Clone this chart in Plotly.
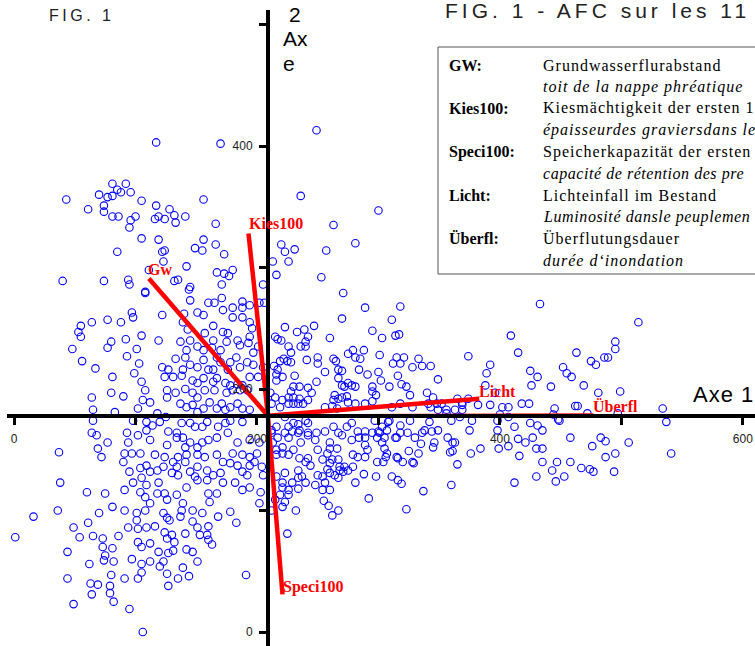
import plotly.graph_objects as go

# ---------------- data: relevés (scores on Axe 1 / Axe 2) ----------------
releves_haut = [
    (117,403),(170,402),(249,413),(43,356),(61,348),(70,360),(74,351),(74,346),(77,358),(81,359),
    (81,369),(85,364),(88,362),(92,369),(96,362),(81,342),(86,342),(95,333),(96,339),(100,342),
    (105,355),(117,351),(116,340),(119,342),(124,340),(128,348),(132,343),(133,337),(141,342),(156,356),
    (236,359),(166,336),(105,324),(119,323),(85,313),(122,313),(124,314),(123,305),(149,316),(155,314),
    (156,323),(166,319),(173,311),(142,301),(167,296),(173,295),(177,293),(180,298),(40,289),(74,289),
    (94,290),(95,286),(132,289),(135,290),(145,284),(171,286),(205,286),(300,347),
    (263,335),(220,319),(223,313),(231,315),(226,305),(213,305),(257,314),(281,320),(108,280),(111,298),
    (144,282),(145,273),(216,294),(206,271),(253,292),(271,279),
]

releves_centre_est = [
    (289,267),(318,268),(270,258),(311,257),(223,251),(233,247),(239,249),(247,252),(242,243),(215,243),
    (217,241),(220,240),(260,242),(295,248),(303,242),(314,244),(317,245),(226,235),(236,235),(240,239),
    (240,235),(228,230),(225,223),(228,222),(222,225),(241,224),(250,226),(250,221),(263,225),(265,223),
    (275,229),(279,232),(281,226),(285,225),(288,232),(301,228),(315,226),(321,226),(333,225),(312,221),
    (318,221),(328,218),(336,219),(343,219),(256,214),(267,216),(270,215),(284,216),(291,212),(300,214),
    (316,211),(219,223),(214,219),(217,216),(216,212),(221,210),(231,211),(216,207),(249,206),(267,209),
    (270,203),(272,202),(275,205),(278,203),(281,202),(302,207),(309,202),(319,204),(323,202),(349,208),
    (230,202),(235,202),(242,201),(245,197),(228,198),(226,193),(230,193),(235,192),(295,202),(295,198),
    (298,195),(326,195),(340,197),(365,192),(264,195),(270,193),(274,194),(263,191),(267,192),(275,189),
    (281,188),(289,188),(295,190),(211,197),(215,193),(212,188),(221,191),(219,185),(226,188),(230,188),
    (234,188),(238,188),(242,191),(311,185),(318,188),(328,185),(341,188),(343,185),(349,183),(356,183),
    (363,183),(369,183),(256,185),(262,186),(266,184),
    (223,177),(226,169),(230,172),(234,171),(240,174),(242,172),(235,166),(242,164),(249,164),(256,165),
    (263,169),(267,164),(274,169),(278,172),(283,165),(289,165),(300,165),(303,169),(308,173),(318,170),
    (324,164),(336,164),(349,166),(357,160),(297,174),(216,169),(212,166),
]

releves_sud = [
    (212,164),(217,160),(223,164),(226,160),(229,165),(213,156),(216,150),(216,146),(221,152),(221,147),
    (226,146),(230,150),(234,164),(242,162),(236,156),(248,158),(250,150),(270,162),(260,156),(266,151),
    (260,151),(258,147),(254,142),(262,142),(267,142),(260,139),(235,143),(240,140),(242,143),(244,137),
    (268,136),(272,136),(275,133),(279,136),(271,132),(278,158),(284,160),(289,160),(295,164),(289,154),
    (291,150),(279,146),(283,144),(289,144),(299,160),(301,164),(305,160),(303,156),(305,151),(299,140),
    (304,140),(306,144),(315,160),(318,164),(330,160),(344,165),(335,155),(346,156),(325,149),(333,147),
    (329,139),(315,144),(320,140),(361,156),(361,149),(365,138),(360,121),(337,116),(311,128),(316,125),
    (319,122),(288,130),(298,128),(281,123),(292,110),(323,101),(223,131),(216,128),(221,123),(229,123),
    (234,127),(234,133),(237,128),(240,123),(248,121),(254,128),(256,123),(250,129),(258,134),(260,131),
    (264,129),(267,127),(268,133),(221,119),(226,117),(226,113),(219,113),(234,118),(223,107),(221,103),
    (254,117),(260,117),(255,108),(259,104),(267,100),(262,96),(232,100),(225,81),(215,109),(212,100),
]

releves_est = [
    (369,187),(382,187),(392,187),(402,185),(407,185),(418,188),(424,188),(445,184),(462,186),(464,186),
    (472,180),(534,184),(497,180),(377,174),(398,174),(407,177),(425,172),(431,170),(435,166),(444,179),
    (448,175),(537,173),(375,166),(398,166),(412,169),(415,159),(421,156),(427,160),(430,151),(435,151),
    (458,160),(483,160),(487,157),(476,153),(506,156),(541,147),(384,151),(399,151),(407,153),(376,147),
    (416,145),(435,140),(447,140),(458,140),(443,133),(453,128),(446,124),(467,135),(474,134),(477,132),
    (487,144),(495,147),(494,132),(430,128),(412,123),(363,156),
    (433,270),(514,255),(409,244),(415,230),(374,227),(392,220),(389,213),(425,215),(431,210),(452,218),
    (455,213),(459,210),(463,230),(475,223),(479,220),(486,226),(489,226),(495,233),(495,239),(469,203),
    (481,197),(499,198),(442,202),(426,203),(345,193),(348,188),(352,188),(369,189),(374,192),(388,203),
    (396,197),(400,179),(449,174),
    (309,174),(307,166),(314,160),(307,147),(316,143),(328,140),(345,152),(359,148),(338,166),(326,174),
    (342,173),(360,174),(356,180),(367,177),
]

releves_ouest = [
    (108,279),(160,271),(165,271),(171,275),(180,267),(188,272),(188,267),(194,269),(202,271),(97,263),
    (98,259),(122,261),(140,262),(151,263),(156,261),(172,265),(180,259),(188,259),(64,255),(77,257),
    (88,255),(55,252),(53,247),(55,243),(139,255),(143,249),(164,252),(172,247),(194,255),(196,250),
    (105,244),(119,240),(137,239),(145,240),(142,232),(151,235),(156,232),(157,246),(164,240),(176,246),
    (175,239),(184,240),(186,236),(193,238),(194,243),(163,234),(170,232),(80,239),(77,234),(92,241),
    (48,233),(101,233),(201,235),(197,230),(56,223),(67,217),(93,227),(103,221),(81,210),(99,213),
    (122,218),(127,216),(133,225),(141,226),(139,216),(145,220),(151,218),(156,224),(160,216),(167,226),
    (170,222),(164,216),(178,222),(183,226),(186,218),(192,222),(197,220),(205,218),(176,216),(105,206),
    (108,199),(80,197),(90,194),(64,193),(124,210),(131,210),(138,211),(147,207),(151,205),(156,209),
    (164,206),(167,209),(174,205),(178,203),(184,204),(188,203),(194,210),(201,210),(126,199),(133,197),
    (141,200),(147,197),(151,193),(157,199),(165,199),(175,197),(180,199),(186,199),(192,199),(65,183),
    (106,191),(112,189),(102,184),(118,180),(126,193),(137,188),(142,185),(147,187),(151,181),(156,184),
    (161,189),(167,184),(171,188),(174,183),(178,185),(184,188),(188,184),(194,183),(83,181),
    (65,174),(64,164),(68,162),(77,156),(69,151),(93,164),(94,156),(97,147),(102,162),(98,174),
    (109,173),(114,170),(120,173),(125,177),(109,166),(112,158),(127,165),(134,164),(138,172),(145,172),
    (149,169),(155,169),(159,173),(168,169),(174,172),(178,174),(188,173),(126,154),(134,160),(139,160),
    (141,152),(145,156),(151,152),(155,156),(160,158),(167,160),(176,164),(184,156),(194,158),(202,156),
    (37,148),(72,144),(91,147),(104,147),(116,146),(124,144),(135,144),(142,146),(151,146),(157,144),
    (167,146),(180,147),(188,146),(194,144),(200,147),
]

releves_sud_ouest = [
    (90,140),(95,132),(104,135),(109,137),(112,132),(118,133),(123,136),(131,140),(134,136),(130,131),
    (135,129),(141,140),(145,132),(149,128),(151,136),(159,133),(164,129),(170,131),(172,140),(178,139),
    (184,137),(188,132),(194,137),(198,140),(204,136),(205,129),(38,123),(60,115),(75,114),(91,117),
    (98,123),(105,127),(104,115),(108,111),(109,121),(119,123),(118,114),(124,114),(126,109),(134,113),
    (139,106),(142,119),(151,125),(159,125),(160,114),(161,107),(167,114),(172,123),(182,123),(188,117),
    (194,119),(203,115),(192,129),(202,106),(36,100),(70,98),(81,103),(91,100),(101,98),(108,100),
    (112,106),(123,98),(126,94),(128,92),(138,100),(147,100),(155,98),(168,95),(178,99),(183,90),
    (137,95),(147,91),(61,90),(49,86),(54,78),(65,79),(73,77),(86,79),(94,86),(101,92),
    (102,85),(109,86),(116,87),(124,82),(126,77),(102,74),(105,70),(112,73),(130,80),(132,74),
    (141,81),(142,68),(147,66),(151,86),(153,80),(159,80),(160,76),(163,72),(151,58),(160,87),
    (44,66),(73,70),(75,63),(81,69),(74,59),(82,58),(62,56),(97,60),(105,56),(112,58),
    (119,66),(127,65),(131,67),(123,58),(120,54),(126,48),(139,53),(144,46),(135,44),(44,44),
    (63,40),(69,39),(64,31),(80,47),(79,38),(79,32),(91,44),(102,44),(105,49),(127,38),
    (49,23),(82,25),(95,19),(106,0),(191,47),(1,78),(16,95),
]

releves = releves_haut + releves_centre_est + releves_sud + releves_est + releves_ouest + releves_sud_ouest
axe1 = [p[0] for p in releves]
axe2 = [p[1] for p in releves]

# variables (vectors drawn from the centre of gravity)
origine_axe1, origine_axe2 = 209, 178
var_noms = ["Gw", "Kies100", "Speci100", "Licht", "Überfl"]
var_axe1 = [111, 193, 221, 383, 477]
var_axe2 = [291, 328, 31, 192, 178.8]
lab_axe1 = [120, 216, 246, 398, 495]
lab_axe2 = [298, 336, 37, 198, 186]

# legend box texts (as visible in the figure)
cles = ["GW:", "Kies100:", "Speci100:", "Licht:", "Überfl:"]
textes_de = ["Grundwasserflurabstand", "Kiesmächtigkeit der ersten 1",
             "Speicherkapazität der ersten", "Lichteinfall im Bestand", "Überflutungsdauer"]
textes_fr = ["toit de la nappe phréatique", "épaisseurdes graviersdans le",
             "capacité de rétention des pre", "Luminosité dansle peuplemen",
             "durée d‘inondation"]
espacement_fr = [1, 1, 0.55, 0.6, 1]

x_ticks = [0, 200, 400, 600]
y_ticks = [0, 200, 400]

# ---------------- figure ----------------
W, H = 755, 646
def fx(p):
    return p / W
def fy(p):
    return 1 - p / H

SANS = "Liberation Sans, Arial, sans-serif"
SERIF = "Liberation Serif, Times New Roman, serif"

fig = go.Figure()
fig.add_trace(go.Scatter(
    x=axe1, y=axe2, mode="markers",
    marker=dict(symbol="circle-open", size=7.5, color="#0000ff", line=dict(width=1.1, color="#0000ff")),
    hoverinfo="skip", showlegend=False))

for i, nom in enumerate(var_noms):
    fig.add_trace(go.Scatter(
        x=[origine_axe1, var_axe1[i]], y=[origine_axe2, var_axe2[i]], mode="lines",
        line=dict(color="#ff0000", width=4.5 if i < 4 else 3), hoverinfo="skip", showlegend=False))
    fig.add_annotation(x=lab_axe1[i], y=lab_axe2[i], xref="x", yref="y", text="<b>" + nom + "</b>",
                       showarrow=False, font=dict(family=SERIF, size=16, color="#ff0000"))

tick_common = dict(
    showline=True, linecolor="black", linewidth=4, showgrid=False, zeroline=False,
    ticks="outside", ticklen=7, tickwidth=3, tickcolor="black",
    minor=dict(dtick=100, tick0=0, ticks="outside", ticklen=7, tickwidth=3, tickcolor="black", showgrid=False),
    tickfont=dict(family=SANS, size=12, color="#222"), fixedrange=True, anchor="free",
)

fig.update_layout(
    width=W, height=H, margin=dict(l=0, r=0, t=0, b=0, pad=0),
    paper_bgcolor="white", plot_bgcolor="white", showlegend=False,
    xaxis=dict(domain=[7 / W, 1], range=[-5.8, 610], position=(H - 416) / H,
               tickmode="array", tickvals=x_ticks, ticktext=[str(v) for v in x_ticks],
               ticklabelstandoff=4, **tick_common),
    yaxis=dict(domain=[0, 1 - 10 / H], range=[-11.5, 512], position=268 / W,
               tickmode="array", tickvals=y_ticks, ticktext=[str(v) for v in y_ticks],
               ticklabelstandoff=4, **tick_common),
)

# legend box
fig.add_shape(type="rect", xref="paper", yref="paper", x0=fx(438), x1=fx(775), y0=fy(274), y1=fy(47),
              line=dict(color="#555", width=1), fillcolor="white", layer="above")
row_y = [65 + 21.7 * k for k in range(10)]
for i in range(5):
    fig.add_annotation(x=fx(447), y=fy(row_y[2 * i]), xref="paper", yref="paper", xanchor="left",
                       yanchor="middle", showarrow=False, text="<b>" + cles[i] + "</b>",
                       font=dict(family=SERIF, size=16, color="black"))
    fig.add_annotation(x=fx(541), y=fy(row_y[2 * i]), xref="paper", yref="paper", xanchor="left",
                       yanchor="middle", showarrow=False,
                       text='<span style="letter-spacing:1px">' + textes_de[i] + "</span>",
                       font=dict(family=SERIF, size=16, color="black"))
    fig.add_annotation(x=fx(541), y=fy(row_y[2 * i + 1]), xref="paper", yref="paper", xanchor="left",
                       yanchor="middle", showarrow=False,
                       text='<i><span style="letter-spacing:%spx">' % espacement_fr[i] + textes_fr[i] + "</span></i>",
                       font=dict(family=SERIF, size=16, color="black"))

# titles
fig.add_annotation(x=fx(47), y=fy(15), xref="paper", yref="paper", xanchor="left", yanchor="middle",
                   showarrow=False, text='<span style="letter-spacing:3.5px">FIG. 1</span>',
                   font=dict(family=SANS, size=16, color="#222"))
fig.add_annotation(x=fx(443), y=fy(11), xref="paper", yref="paper", xanchor="left", yanchor="middle",
                   showarrow=False, text='<span style="letter-spacing:4px">FIG. 1 - AFC sur les 11</span>',
                   font=dict(family=SANS, size=21, color="#222"))
fig.add_annotation(x=fx(691), y=fy(394), xref="paper", yref="paper", xanchor="left", yanchor="middle",
                   showarrow=False, text='<span style="letter-spacing:1px">Axe 1</span>',
                   font=dict(family=SANS, size=22, color="black"))
for txt, xx, yy in [("2", 287, 14), ("Ax", 281, 38), ("e", 281, 63)]:
    fig.add_annotation(x=fx(xx), y=fy(yy), xref="paper", yref="paper", xanchor="left", yanchor="middle",
                       showarrow=False, text=txt, font=dict(family=SANS, size=21, color="black"))

fig.write_html("out.html", config={"displayModeBar": False},
               post_script="document.body.style.margin='0';")
